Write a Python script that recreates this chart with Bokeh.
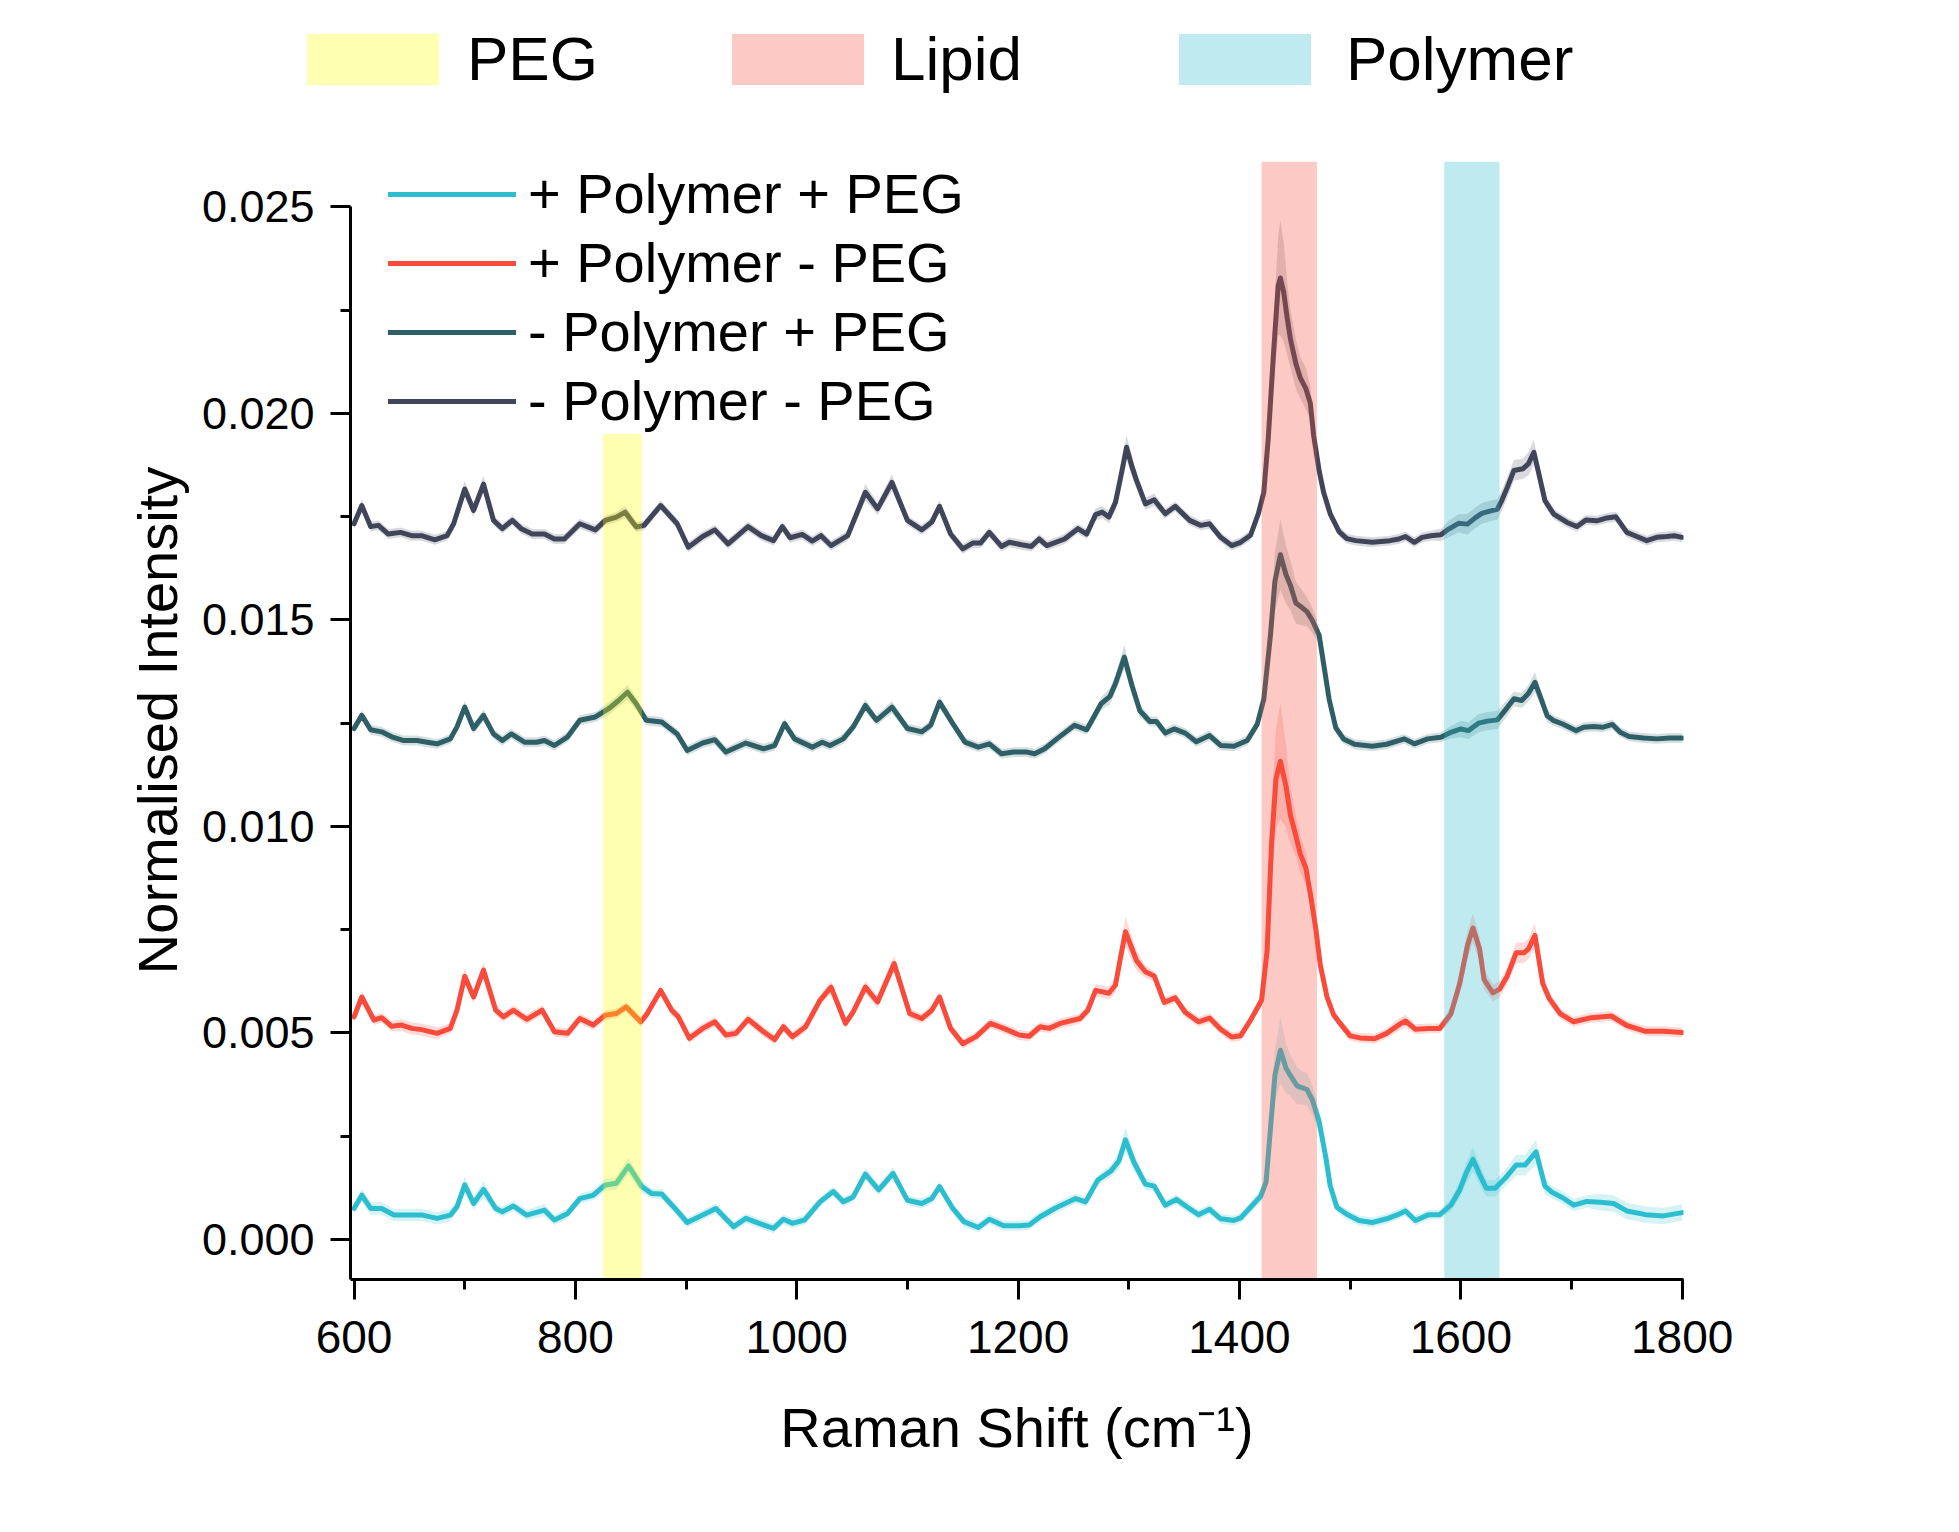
import numpy as np
from bokeh.plotting import figure
from bokeh.layouts import column
from bokeh.models import (ColumnDataSource, Legend, LegendItem, FixedTicker,
                          PrintfTickFormatter, Range1d)
from bokeh.embed import file_html
from bokeh.resources import INLINE

# ---------------- data (intensities in units of 1e-3) ----------------
UNIT = 1e-3

# + Polymer + PEG (cyan)
a_x = [600, 607, 615, 625, 636, 648, 662, 675, 687, 693,
       700, 708, 717, 728, 734, 744, 756, 772, 781, 793,
       804, 816, 827, 837, 848, 860, 869, 878, 890, 901,
       915, 927, 943, 954, 966, 979, 988, 996, 1007, 1021,
       1033, 1042, 1051, 1062, 1074, 1087, 1100, 1113, 1122, 1129,
       1141, 1151, 1164, 1174, 1187, 1201, 1210, 1220, 1233, 1252,
       1261, 1272, 1284, 1291, 1297, 1305, 1315, 1323, 1333, 1343,
       1353, 1363, 1373, 1383, 1395, 1401, 1410, 1419, 1424, 1428,
       1432, 1437, 1442, 1446, 1452, 1457, 1461, 1466, 1472, 1478,
       1482, 1488, 1497, 1508, 1520, 1533, 1543, 1550, 1559, 1571,
       1581, 1591, 1599, 1605, 1611, 1617, 1623, 1631, 1640, 1650,
       1658, 1668, 1676, 1682, 1692, 1702, 1714, 1726, 1738, 1750,
       1767, 1783, 1800]
a_y = [0.75, 1.07, 0.75, 0.75, 0.59, 0.59, 0.59, 0.51, 0.59, 0.79,
       1.32, 0.87, 1.21, 0.75, 0.67, 0.81, 0.59, 0.71, 0.47, 0.63,
       0.99, 1.07, 1.32, 1.36, 1.78, 1.28, 1.11, 1.10, 0.75, 0.41,
       0.59, 0.75, 0.31, 0.51, 0.39, 0.27, 0.49, 0.39, 0.47, 0.91,
       1.16, 0.91, 1.03, 1.58, 1.20, 1.60, 0.95, 0.87, 0.99, 1.28,
       0.75, 0.43, 0.29, 0.49, 0.33, 0.33, 0.35, 0.55, 0.75, 0.99,
       0.91, 1.44, 1.66, 1.90, 2.41, 1.85, 1.34, 1.29, 0.83, 0.97,
       0.78, 0.60, 0.73, 0.50, 0.46, 0.52, 0.78, 1.04, 1.38, 2.68,
       3.97, 4.58, 4.15, 3.97, 3.72, 3.67, 3.63, 3.37, 2.85, 1.99,
       1.30, 0.78, 0.61, 0.46, 0.41, 0.50, 0.60, 0.69, 0.46, 0.60,
       0.60, 0.83, 1.20, 1.62, 1.94, 1.57, 1.24, 1.24, 1.48, 1.80,
       1.80, 2.12, 1.29, 1.15, 1.01, 0.83, 0.92, 0.90, 0.87, 0.69,
       0.60, 0.57, 0.65]
a_sd = [.12, .15, .15, .15, .15, .15, .15, .15, .15, .12,
        .20, .15, .20, .12, .12, .12, .12, .15, .12, .12,
        .12, .12, .15, .15, .20, .15, .12, .12, .12, .12,
        .12, .12, .12, .12, .12, .12, .12, .12, .12, .12,
        .12, .12, .12, .15, .12, .15, .12, .12, .12, .12,
        .12, .12, .12, .12, .12, .12, .12, .12, .12, .12,
        .12, .12, .15, .20, .30, .20, .15, .12, .12, .12,
        .12, .12, .12, .12, .12, .12, .12, .15, .20, .40,
        .60, .80, .60, .50, .45, .40, .40, .35, .30, .20,
        .15, .12, .12, .12, .12, .12, .12, .12, .12, .12,
        .12, .15, .20, .25, .30, .25, .20, .20, .20, .25,
        .25, .30, .20, .15, .15, .15, .15, .20, .20, .20,
        .20, .20, .20]

# + Polymer - PEG (red)
b_x = [600, 607, 618, 625, 634, 643, 652, 661, 675, 687,
       693, 700, 708, 717, 728, 735, 744, 756, 770, 781,
       793, 804, 816, 827, 837, 846, 859, 864, 877, 887,
       893, 903, 915, 926, 936, 945, 956, 970, 980, 988,
       996, 1008, 1021, 1031, 1044, 1051, 1062, 1073, 1088, 1102,
       1113, 1122, 1129, 1139, 1150, 1162, 1175, 1187, 1201, 1210,
       1220, 1228, 1238, 1256, 1263, 1270, 1282, 1288, 1292, 1297,
       1307, 1315, 1323, 1332, 1342, 1351, 1363, 1373, 1383, 1393,
       1401, 1410, 1420, 1425, 1429, 1433, 1437, 1442, 1446, 1451,
       1455, 1460, 1464, 1469, 1473, 1479, 1485, 1491, 1500, 1509,
       1522, 1533, 1543, 1550, 1559, 1571, 1581, 1591, 1599, 1606,
       1611, 1617, 1621, 1629, 1635, 1642, 1650, 1657, 1661, 1667,
       1674, 1680, 1690, 1702, 1716, 1736, 1750, 1767, 1783, 1800]
b_y = [5.39, 5.87, 5.31, 5.37, 5.16, 5.19, 5.11, 5.08, 4.99, 5.11,
       5.55, 6.37, 5.87, 6.52, 5.55, 5.39, 5.55, 5.33, 5.55, 5.03,
       4.99, 5.35, 5.19, 5.43, 5.47, 5.63, 5.27, 5.43, 6.03, 5.55,
       5.39, 4.87, 5.11, 5.27, 4.95, 4.99, 5.33, 5.03, 4.84, 5.15,
       4.91, 5.15, 5.79, 6.11, 5.23, 5.51, 6.11, 5.75, 6.68, 5.47,
       5.35, 5.55, 5.87, 5.11, 4.74, 4.91, 5.23, 5.11, 4.95, 4.92,
       5.15, 5.11, 5.23, 5.35, 5.55, 6.03, 5.96, 6.16, 6.75, 7.45,
       6.75, 6.48, 6.38, 5.74, 5.85, 5.50, 5.27, 5.36, 5.09, 4.90,
       4.93, 5.31, 5.79, 7.00, 9.59, 11.15, 11.58, 10.98, 10.28, 9.77,
       9.33, 8.99, 8.38, 7.52, 6.65, 5.88, 5.44, 5.23, 4.93, 4.88,
       4.86, 4.99, 5.18, 5.29, 5.09, 5.11, 5.11, 5.46, 6.20, 7.12,
       7.54, 7.03, 6.29, 5.97, 6.06, 6.38, 6.94, 6.94, 7.03, 7.36,
       6.20, 5.83, 5.46, 5.27, 5.36, 5.41, 5.18, 5.04, 5.04, 5.01]
b_sd = [.12, .15, .12, .12, .12, .15, .15, .15, .15, .12,
        .12, .20, .15, .20, .12, .12, .12, .12, .12, .12,
        .12, .12, .12, .12, .12, .12, .12, .12, .12, .12,
        .12, .12, .12, .12, .12, .12, .12, .12, .12, .12,
        .12, .12, .12, .15, .12, .12, .15, .15, .20, .12,
        .12, .12, .12, .12, .12, .12, .12, .12, .12, .12,
        .12, .12, .12, .12, .12, .15, .15, .20, .30, .35,
        .25, .15, .12, .12, .12, .12, .12, .12, .12, .12,
        .12, .12, .15, .40, .90, 1.20, 1.40, 1.00, .70, .50,
        .45, .40, .30, .25, .20, .15, .12, .12, .12, .12,
        .12, .12, .15, .15, .12, .12, .12, .15, .25, .35,
        .35, .30, .25, .20, .20, .20, .25, .25, .25, .30,
        .20, .15, .12, .12, .12, .12, .12, .12, .12, .12]

# - Polymer + PEG (dark teal)
c_x = [600, 607, 615, 625, 634, 645, 657, 666, 675, 687,
       693, 700, 708, 717, 726, 734, 742, 754, 765, 772,
       781, 793, 804, 818, 830, 839, 847, 855, 864, 878,
       892, 901, 915, 926, 936, 954, 970, 980, 989, 998,
       1014, 1023, 1030, 1042, 1051, 1062, 1072, 1086, 1100, 1113,
       1121, 1129, 1141, 1152, 1164, 1174, 1185, 1196, 1208, 1215,
       1224, 1235, 1251, 1262, 1275, 1283, 1288, 1296, 1303, 1310,
       1319, 1325, 1333, 1341, 1351, 1361, 1373, 1383, 1395, 1407,
       1416, 1422, 1428, 1432, 1437, 1442, 1446, 1451, 1455, 1461,
       1466, 1472, 1476, 1481, 1487, 1494, 1504, 1520, 1533, 1549,
       1558, 1570, 1582, 1591, 1600, 1607, 1616, 1624, 1633, 1640,
       1648, 1655, 1661, 1667, 1672, 1678, 1684, 1692, 1698, 1704,
       1711, 1720, 1728, 1737, 1744, 1752, 1765, 1777, 1789, 1800]
c_y = [12.37, 12.69, 12.34, 12.29, 12.17, 12.08, 12.08, 12.04, 12.00, 12.12,
       12.41, 12.89, 12.37, 12.69, 12.24, 12.08, 12.24, 12.04, 12.04, 12.08,
       11.96, 12.17, 12.57, 12.65, 12.85, 13.05, 13.25, 12.97, 12.57, 12.53,
       12.24, 11.84, 12.02, 12.10, 11.80, 12.02, 11.88, 11.96, 12.49, 12.12,
       11.92, 12.04, 11.96, 12.12, 12.41, 12.93, 12.57, 12.89, 12.37, 12.29,
       12.45, 13.01, 12.49, 12.04, 11.92, 12.00, 11.76, 11.80, 11.80, 11.76,
       11.88, 12.12, 12.45, 12.34, 12.97, 13.15, 13.46, 14.10, 13.40, 12.80,
       12.54, 12.54, 12.26, 12.36, 12.26, 12.05, 12.20, 11.96, 11.94, 12.08,
       12.47, 13.08, 14.63, 15.93, 16.58, 16.10, 15.84, 15.41, 15.33, 15.20,
       14.98, 14.63, 13.94, 13.08, 12.39, 12.12, 11.99, 11.94, 11.99, 12.12,
       12.00, 12.12, 12.16, 12.28, 12.36, 12.32, 12.50, 12.55, 12.58, 12.81,
       13.09, 13.05, 13.22, 13.49, 13.13, 12.68, 12.56, 12.48, 12.40, 12.32,
       12.40, 12.42, 12.40, 12.47, 12.28, 12.18, 12.14, 12.12, 12.14, 12.14]
c_sd = [.12, .12, .12, .12, .12, .12, .12, .12, .12, .12,
        .12, .15, .12, .15, .12, .12, .12, .12, .12, .12,
        .12, .12, .12, .12, .15, .15, .18, .15, .12, .12,
        .12, .12, .12, .12, .12, .12, .12, .12, .12, .12,
        .12, .12, .12, .12, .12, .15, .12, .15, .12, .12,
        .12, .15, .12, .12, .12, .12, .12, .12, .12, .12,
        .12, .12, .12, .12, .15, .20, .20, .30, .20, .15,
        .12, .12, .12, .12, .12, .12, .12, .12, .12, .12,
        .12, .15, .40, .70, .85, .70, .60, .50, .45, .35,
        .30, .20, .15, .12, .12, .12, .12, .12, .12, .12,
        .12, .12, .12, .15, .20, .20, .22, .22, .22, .20,
        .18, .18, .20, .25, .18, .15, .12, .12, .12, .12,
        .12, .12, .12, .12, .12, .12, .12, .12, .12, .12]

# - Polymer - PEG (dark slate)
d_x = [600, 607, 615, 622, 631, 642, 652, 661, 673, 684,
       690, 700, 708, 717, 726, 734, 743, 751, 761, 772,
       781, 790, 804, 818, 827, 837, 845, 855, 862, 877,
       892, 902, 915, 926, 938, 956, 968, 979, 987, 994,
       1005, 1014, 1022, 1031, 1046, 1062, 1073, 1086, 1100, 1113,
       1122, 1129, 1139, 1150, 1159, 1166, 1174, 1185, 1192, 1203,
       1212, 1219, 1226, 1242, 1254, 1262, 1270, 1276, 1282, 1288,
       1293, 1298, 1303, 1307, 1315, 1323, 1333, 1342, 1355, 1365,
       1373, 1383, 1393, 1401, 1410, 1417, 1422, 1426, 1431, 1435,
       1437, 1440, 1443, 1446, 1451, 1455, 1460, 1464, 1467, 1472,
       1476, 1482, 1490, 1497, 1505, 1520, 1536, 1544, 1550, 1558,
       1565, 1573, 1582, 1589, 1598, 1606, 1613, 1619, 1627, 1633,
       1637, 1642, 1648, 1656, 1661, 1666, 1670, 1676, 1684, 1696,
       1705, 1713, 1723, 1732, 1740, 1750, 1759, 1768, 1777, 1786,
       1793, 1800]
d_y = [17.33, 17.77, 17.26, 17.29, 17.08, 17.12, 17.04, 17.04, 16.94, 17.04,
       17.33, 18.17, 17.65, 18.29, 17.41, 17.21, 17.41, 17.21, 17.08, 17.08,
       16.96, 16.96, 17.33, 17.18, 17.41, 17.49, 17.61, 17.25, 17.29, 17.77,
       17.33, 16.76, 17.02, 17.18, 16.84, 17.26, 17.04, 16.92, 17.26, 16.99,
       17.07, 16.91, 17.04, 16.80, 17.04, 18.09, 17.69, 18.33, 17.41, 17.18,
       17.37, 17.75, 17.08, 16.72, 16.86, 16.86, 17.12, 16.78, 16.88, 16.82,
       16.78, 16.96, 16.80, 16.96, 17.21, 17.08, 17.55, 17.61, 17.49, 17.85,
       18.50, 19.18, 18.70, 18.38, 17.81, 17.91, 17.57, 17.75, 17.41, 17.29,
       17.33, 17.00, 16.80, 16.88, 17.05, 17.57, 18.09, 19.39, 21.55, 23.10,
       23.28, 22.93, 22.33, 21.81, 21.20, 20.86, 20.60, 20.25, 19.47, 18.61,
       18.09, 17.57, 17.14, 16.97, 16.92, 16.88, 16.92, 16.96, 17.02, 16.88,
       17.00, 17.04, 17.06, 17.20, 17.34, 17.32, 17.47, 17.58, 17.64, 17.68,
       17.89, 18.21, 18.62, 18.66, 18.78, 19.06, 18.60, 17.89, 17.56, 17.36,
       17.26, 17.42, 17.40, 17.47, 17.50, 17.12, 17.02, 16.92, 17.00, 17.02,
       17.04, 17.00]
d_sd = [.12, .15, .12, .12, .12, .12, .12, .12, .12, .12,
        .12, .20, .15, .20, .12, .12, .12, .12, .12, .12,
        .12, .12, .12, .12, .12, .12, .15, .12, .12, .12,
        .12, .12, .12, .12, .12, .12, .12, .12, .12, .12,
        .12, .12, .12, .12, .12, .20, .15, .20, .12, .12,
        .12, .15, .12, .12, .12, .12, .12, .12, .12, .12,
        .12, .12, .12, .12, .12, .12, .15, .15, .15, .20,
        .25, .30, .25, .20, .15, .15, .12, .12, .12, .12,
        .12, .12, .12, .12, .12, .15, .20, .35, .80, 1.20,
        1.40, 1.20, .90, .70, .60, .50, .50, .40, .30, .20,
        .15, .12, .12, .12, .12, .12, .12, .12, .12, .12,
        .12, .12, .15, .20, .22, .25, .25, .25, .25, .25,
        .25, .25, .25, .25, .28, .30, .25, .15, .12, .12,
        .12, .12, .12, .12, .12, .12, .12, .12, .12, .12,
        .12, .12]

series_labels = ["+ Polymer + PEG", "+ Polymer - PEG", "- Polymer + PEG", "- Polymer - PEG"]
series_colors = ["#2CBECE", "#F94B3B", "#2F5F66", "#40455A"]
series_x = [a_x, b_x, c_x, d_x]
series_y = [a_y, b_y, c_y, d_y]
series_sd = [a_sd, b_sd, c_sd, d_sd]

band_labels = ["PEG", "Lipid", "Polymer"]
band_left = [825, 1420, 1585]
band_right = [860, 1470, 1635]
band_top = [0.0195, 0.0261, 0.0261]
band_colors = ["#FFFF00", "#F94B3B", "#2CBECE"]

x_ticks = [600, 800, 1000, 1200, 1400, 1600, 1800]
x_minor = [700, 900, 1100, 1300, 1500, 1700]
y_ticks = [0.0, 0.005, 0.010, 0.015, 0.020, 0.025]
y_minor = [0.0025, 0.0075, 0.0125, 0.0175, 0.0225]

X_START, X_END = 596.8, 1801.2
Y_START, Y_END = -0.00097, 0.0261

FONT = "Liberation Sans"
TOP_H = 125

# ---------------- main plot ----------------
p = figure(width=1940, height=1390,
           x_range=Range1d(X_START, X_END), y_range=Range1d(Y_START, Y_END),
           output_backend="svg", toolbar_location=None,
           min_border_left=350, min_border_right=257,
           min_border_top=161 - TOP_H, min_border_bottom=1390 - (161 - TOP_H) - 1118)
p.outline_line_color = None
p.grid.visible = False

line_renderers = []
for xs, ys, sds, col in zip(series_x, series_y, series_sd, series_colors):
    assert len(xs) == len(ys) == len(sds), (len(xs), len(ys), len(sds))
    xa = np.array(xs, dtype=float)
    ya = np.array(ys) * UNIT
    sa = np.array(sds) * UNIT
    src = ColumnDataSource(dict(x=xa, y=ya, lo=ya - sa, hi=ya + sa))
    p.varea(x="x", y1="lo", y2="hi", source=src, fill_color=col, fill_alpha=0.2)
    r = p.line(x="x", y="y", source=src, line_color=col, line_width=5,
               line_join="round", line_cap="round")
    line_renderers.append(r)

band_src = ColumnDataSource(dict(
    left=band_left, right=band_right, top=band_top,
    bottom=[Y_START] * len(band_left), color=band_colors, label=band_labels))
p.quad(left="left", right="right", top="top", bottom="bottom",
       source=band_src, fill_color="color", fill_alpha=0.3, line_color=None)

xax = p.xaxis[0]
xax.ticker = FixedTicker(ticks=x_ticks, minor_ticks=x_minor)
xax.axis_label = "Raman Shift (cm\u207b\u00b9)"
yax = p.yaxis[0]
yax.ticker = FixedTicker(ticks=y_ticks, minor_ticks=y_minor)
yax.formatter = PrintfTickFormatter(format="%.3f")
yax.axis_label = "Normalised Intensity"
yax.bounds = (Y_START, 0.025)
for ax in (xax, yax):
    ax.axis_line_width = 3
    ax.axis_line_color = "black"
    ax.major_tick_line_width = 3
    ax.minor_tick_line_width = 3
    ax.major_tick_line_color = "black"
    ax.minor_tick_line_color = "black"
    ax.major_tick_out = 20
    ax.major_tick_in = 0
    ax.minor_tick_out = 10
    ax.minor_tick_in = 0
    ax.major_label_text_font = FONT
    ax.major_label_text_color = "black"
    ax.axis_label_text_font = FONT
    ax.axis_label_text_font_style = "normal"
    ax.axis_label_text_color = "black"
    ax.axis_label_text_font_size = "56px"
xax.major_label_text_font_size = "46px"
yax.major_label_text_font_size = "45px"
xax.major_label_standoff = 21
yax.major_label_standoff = 16
xax.axis_label_standoff = 40
yax.axis_label_standoff = 10

line_legend = Legend(
    items=[LegendItem(label=l, renderers=[r]) for l, r in zip(series_labels, line_renderers)],
    location=(38, 846), orientation="vertical",
    glyph_width=128, glyph_height=60, label_height=60, spacing=4,
    label_standoff=12, padding=0, margin=0,
    label_text_font=FONT, label_text_font_size="56px", label_text_color="black",
    border_line_color=None, background_fill_alpha=0)
p.add_layout(line_legend)

# ---------------- band key above the plot ----------------
top = figure(width=1940, height=TOP_H, x_range=Range1d(0, 1), y_range=Range1d(10, 11),
             output_backend="svg", toolbar_location=None,
             x_axis_location=None, y_axis_location=None,
             min_border_left=0, min_border_right=0, min_border_top=0, min_border_bottom=0)
try:
    top.frame_align = False
except Exception:
    pass
top.outline_line_color = None
top.grid.visible = False
key_r = top.quad(left="left", right="right", top="top", bottom="bottom",
                 source=band_src, fill_color="color", fill_alpha=0.3, line_color=None)

# legend glyph boxes (area glyphs are drawn inset by 10% of the box)
band_key_x = [290, 715, 1162]
band_standoffs = [12, 11, 19]
for i, (lab, bx, so) in enumerate(zip(band_labels, band_key_x, band_standoffs)):
    lg = Legend(items=[LegendItem(label=lab, renderers=[key_r], index=i)],
                location=(bx, 31), orientation="horizontal",
                glyph_width=165, glyph_height=64, label_height=64,
                label_standoff=so, padding=0, margin=0, spacing=0,
                label_text_font=FONT, label_text_font_size="62px",
                label_text_color="black",
                border_line_color=None, background_fill_alpha=0)
    top.add_layout(lg)

layout = column(top, p, spacing=0)
open("out.html", "w").write(file_html(layout, INLINE))
